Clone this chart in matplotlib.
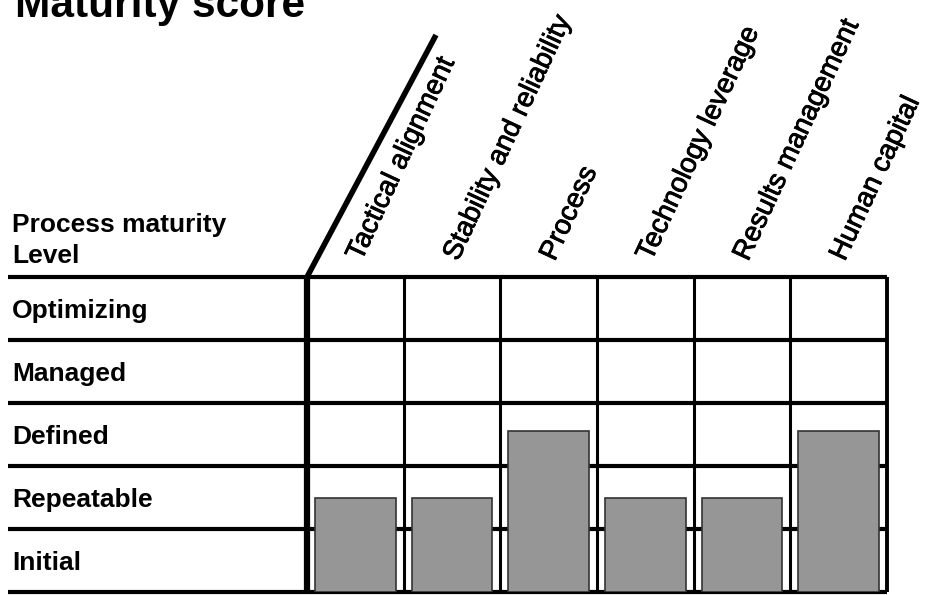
import matplotlib
matplotlib.use("Agg")
import matplotlib.pyplot as plt
import matplotlib.patheffects as pe
import numpy as np

plt.rcParams['font.family'] = ['Liberation Sans', 'DejaVu Sans']

title = "Maturity score"
categories = ["Tactical alignment", "Stability and reliability", "Process",
              "Technology leverage", "Results management", "Human capital"]
levels = ["Initial", "Repeatable", "Defined", "Managed", "Optimizing"]
scores = [1.5, 1.5, 2.55, 1.5, 1.5, 2.55]
header = ["Process maturity", "Level"]

W, H = 926, 595
fig = plt.figure(figsize=(W / 100, H / 100), dpi=100)

# grid axes in pixel geometry
gx0, gx1, gy0, gy1 = 307, 887, 592, 277
ax = fig.add_axes([gx0 / W, (H - gy0) / H, (gx1 - gx0) / W, (gy0 - gy1) / H])
ax.set_xlim(0, len(categories))
ax.set_ylim(0, len(levels))
ax.axis('off')

axw = gx1 - gx0
axh = gy0 - gy1
left_ext = (8 - gx0) / axw

# horizontal lines (extend into label area)
trans_h = matplotlib.transforms.blended_transform_factory(ax.transAxes, ax.transData)
for yv in range(len(levels) + 1):
    ax.plot([left_ext, 1.0], [yv, yv], transform=trans_h, color='black',
            lw=3.0, clip_on=False, zorder=1, solid_capstyle='butt')

# vertical lines
for xv in range(1, len(categories)):
    ax.plot([xv, xv], [0, len(levels)], color='black', lw=2.2, zorder=1,
            clip_on=False, solid_capstyle='butt')
ax.plot([len(categories)] * 2, [0, len(levels)], color='black', lw=2.8,
        zorder=1, clip_on=False, solid_capstyle='butt')
ax.plot([0, 0], [0, len(levels)], color='black', lw=4.5, zorder=3,
        clip_on=False, solid_capstyle='butt')

# diagonal header line
ax.plot([0, (436 - gx0) / axw], [1.0, (H - 35 - (H - gy0)) / axh],
        transform=ax.transAxes, color='black', lw=4.0, clip_on=False,
        solid_capstyle='butt', zorder=3)

# bars
xs = np.arange(len(categories)) + 0.5
ax.bar(xs, scores, width=0.835, color='#969696', edgecolor='#333333',
       linewidth=1.2, zorder=2)

# row labels
for i, lab in enumerate(levels):
    ax.text((12 - gx0) / axw, i + 0.5 - 0.15, lab, transform=trans_h,
            fontsize=19, fontweight='bold', ha='left', va='baseline')

# header text
fig.text(12 / W, (H - 232) / H, header[0], fontsize=19, fontweight='bold',
         ha='left', va='baseline')
fig.text(12 / W, (H - 263) / H, header[1], fontsize=19, fontweight='bold',
         ha='left', va='baseline')

# title
fig.text(15 / W, (H - 17) / H, title, fontsize=30.5, fontweight='bold',
         ha='left', va='baseline')

# category labels
trans_c = matplotlib.transforms.blended_transform_factory(ax.transData, ax.transAxes)
label_y = (H - 262 - (H - gy0)) / axh
off = 6 / axw * len(categories)
for x, lab in zip(xs, categories):
    ax.text(x + off, label_y, lab, transform=trans_c, rotation=65,
            rotation_mode='anchor', ha='left', va='baseline', fontsize=20,
            clip_on=False,
            path_effects=[pe.withStroke(linewidth=0.6, foreground='black')])

fig.savefig("out.png", dpi=100)
